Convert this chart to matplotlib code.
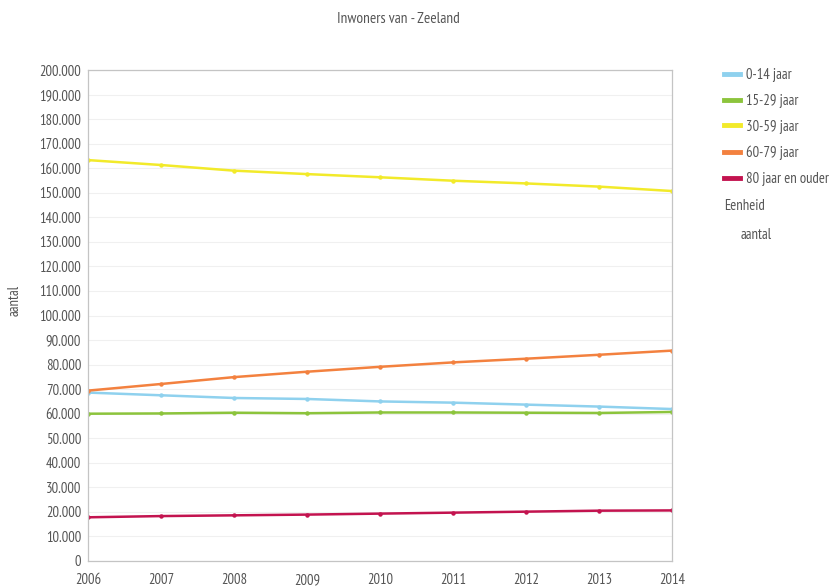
import matplotlib
matplotlib.use("Agg")
import matplotlib.pyplot as plt
from matplotlib.lines import Line2D
from matplotlib.ticker import FuncFormatter, MultipleLocator

plt.rcParams['font.family'] = ['PT Sans Narrow', 'DejaVu Sans']

years = [2006, 2007, 2008, 2009, 2010, 2011, 2012, 2013, 2014]
age_0_14 = [68600, 67500, 66400, 66000, 65000, 64500, 63700, 62900, 61900]
age_15_29 = [60000, 60100, 60400, 60200, 60500, 60500, 60400, 60300, 60700]
age_30_59 = [163300, 161300, 159000, 157600, 156300, 154900, 153800, 152500, 150700]
age_60_79 = [69400, 72100, 74900, 77100, 79100, 80900, 82400, 84000, 85700]
age_80_plus = [17800, 18300, 18600, 18900, 19300, 19700, 20100, 20500, 20600]

series_labels = ['0-14 jaar', '15-29 jaar', '30-59 jaar', '60-79 jaar', '80 jaar en ouder']
series_values = [age_0_14, age_15_29, age_30_59, age_60_79, age_80_plus]
colors = ['#8fd1ee', '#8cc43c', '#f2ea2a', '#f3813f', '#c3134f']

title = 'Inwoners van - Zeeland'
ylabel = 'aantal'
unit_title = 'Eenheid'
unit_value = 'aantal'

fig = plt.figure(figsize=(8.32, 5.88), dpi=100)
ax = fig.add_axes([88/832, 1-561/588, (672-88)/832, (561-70)/588])

text_color = '#555555'
for vals, col, lab in zip(series_values, colors, series_labels):
    ax.plot(years, vals, color=col, lw=1.8, marker='o', markersize=2.2,
            label=lab, solid_capstyle='round')

ax.set_xlim(years[0], years[-1])
ax.set_ylim(0, 200000)
ax.yaxis.set_major_locator(MultipleLocator(10000))
ax.set_xticks(years)
ax.yaxis.set_major_formatter(FuncFormatter(lambda v, p: f"{int(v):,}".replace(',', '.')))
ax.grid(axis='y', color='#f0f0f0', lw=0.8)
ax.set_axisbelow(True)
for s in ax.spines.values():
    s.set_color('#c4c4c4')
    s.set_linewidth(0.9)
ax.tick_params(length=0, labelsize=10.5, colors=text_color, pad=5)
ax.tick_params(axis='x', pad=9)
ax.set_ylabel(ylabel, fontsize=10.5, color=text_color)
ax.yaxis.set_label_coords((22-88)/584, 0.53)

fig.text(398/832, 1-19/588, title, ha='center', va='center', fontsize=11, color=text_color)

# Legend
handles = [Line2D([0], [0], color=c, lw=3.5) for c in colors]
leg = fig.legend(handles, series_labels, loc='upper left', bbox_to_anchor=(718/832, 1-62/588),
                 frameon=False, fontsize=10.5, handlelength=1.1, handletextpad=0.4,
                 labelspacing=0.8, borderaxespad=0)
for t in leg.get_texts():
    t.set_color(text_color)
fig.text(724/832, 1-206/588, unit_title, ha='left', va='center', fontsize=10.5, color=text_color)
fig.text(741/832, 1-235/588, unit_value, ha='left', va='center', fontsize=10.5, color=text_color)

fig.savefig('out.png', dpi=100)
